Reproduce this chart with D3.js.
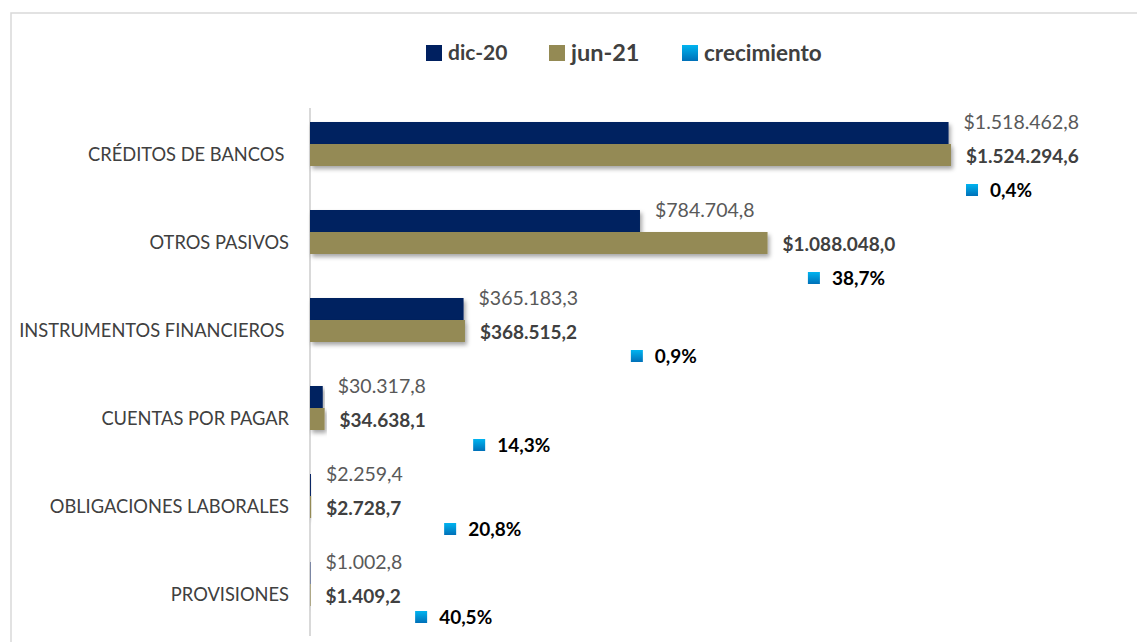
<!DOCTYPE html>
<html>
<head>
<meta charset="utf-8">
<script src="https://cdn.jsdelivr.net/npm/d3@7/dist/d3.min.js"></script>
<style>
  body { margin: 0; background: #fff; }
  text { font-family: Lato, "Open Sans", sans-serif; white-space: pre; }
</style>
</head>
<body>
<div id="chart"></div>
<script>
var categories = ["CRÉDITOS DE BANCOS ", "OTROS PASIVOS", "INSTRUMENTOS FINANCIEROS ", "CUENTAS POR PAGAR", "OBLIGACIONES LABORALES", "PROVISIONES"];
var dic20 = [1518462.8, 784704.8, 365183.3, 30317.8, 2259.4, 1002.8];
var jun21 = [1524294.6, 1088048.0, 368515.2, 34638.1, 2728.7, 1409.2];
var crecimiento = [0.4, 38.7, 0.9, 14.3, 20.8, 40.5];
var seriesNames = ["dic-20", "jun-21", "crecimiento"];
// where the growth labels were dragged to, in value units of the x axis
var growthLabelAt = [1560000, 1184000, 763000, 388000, 319000, 250000];
var growthLabelDy = [13, 13, 3, 4, 0, 0];

var W = 1137, H = 642;
var colors = {dic: "#002060", jun: "#948A54"};

function fmtMoney(v) {
    var parts = v.toFixed(1).split(".");
    return "$" + parts[0].replace(/\B(?=(\d{3})+(?!\d))/g, ".") + "," + parts[1];
}
function fmtPct(v) { return v.toFixed(1).replace(".", ",") + "%"; }

var svg = d3.select("#chart").append("svg").attr("width", W).attr("height", H);
var defs = svg.append("defs");
var shadow = defs.append("filter").attr("id", "shadow").attr("x", "-5%").attr("y", "-30%").attr("width", "115%").attr("height", "180%");
shadow.append("feDropShadow").attr("dx", 2).attr("dy", 3).attr("stdDeviation", 2).attr("flood-color", "#000").attr("flood-opacity", 0.35);
var grad = defs.append("linearGradient").attr("id", "blueGrad").attr("x1", 0).attr("y1", 0).attr("x2", 0).attr("y2", 1);
grad.append("stop").attr("offset", "0%").attr("stop-color", "#00B4F0");
grad.append("stop").attr("offset", "100%").attr("stop-color", "#0070B8");

// chart frame
svg.append("rect").attr("x", 11).attr("y", 13).attr("width", W).attr("height", H)
    .attr("fill", "none").attr("stroke", "#d9d9d9").attr("stroke-width", 1.5);

var x = d3.scaleLinear().domain([0, 1524294.6]).range([310, 951]);
var y = d3.scaleBand().domain(categories).range([111, 639]);
var sub = d3.scaleBand().domain([0, 1, 2]).range([0, 66]);
var inset = (y.bandwidth() - 66) / 2;

// vertical category axis
svg.append("g").attr("transform", "translate(" + x(0) + ",0)")
    .call(d3.axisLeft(y).tickSize(0).tickPadding(21).tickFormat(function(d){ return d; }))
    .call(function(g) {
        g.select(".domain").attr("stroke", "#d9d9d9").attr("stroke-width", 2).attr("d", "M0,108V636");
        g.selectAll("text").attr("fill", "#404040").attr("font-size", 18.3).attr("font-family", "Lato, sans-serif");
    });

var rows = svg.append("g").selectAll("g").data(categories).enter().append("g")
    .attr("transform", function(d){ return "translate(0," + (y(d) + inset) + ")"; });

rows.append("rect").attr("x", x(0))
    .attr("y", sub(0)).attr("height", sub.bandwidth())
    .attr("width", function(d, i){ return x(dic20[i]) - x(0); })
    .attr("fill", colors.dic).attr("filter", "url(#shadow)");
rows.append("rect").attr("x", x(0))
    .attr("y", sub(1)).attr("height", sub.bandwidth())
    .attr("width", function(d, i){ return x(jun21[i]) - x(0); })
    .attr("fill", colors.jun).attr("filter", "url(#shadow)");

rows.append("text")
    .attr("x", function(d, i){ return x(dic20[i]) + 15; })
    .attr("y", sub(0) + sub.bandwidth() / 2 - 11)
    .attr("dy", "0.35em").attr("font-size", 19.5).attr("fill", "#595959")
    .text(function(d, i){ return fmtMoney(dic20[i]); });
rows.append("text")
    .attr("x", function(d, i){ return x(jun21[i]) + 15; })
    .attr("y", sub(1) + sub.bandwidth() / 2 + 1)
    .attr("dy", "0.35em").attr("font-size", 19).attr("font-weight", "bold").attr("fill", "#404040")
    .text(function(d, i){ return fmtMoney(jun21[i]); });

rows.append("rect")
    .attr("x", function(d, i){ return x(growthLabelAt[i]); })
    .attr("y", function(d, i){ return sub(2) + sub.bandwidth() / 2 + growthLabelDy[i] - 6; })
    .attr("width", 12).attr("height", 12).attr("fill", "url(#blueGrad)");
rows.append("text")
    .attr("x", function(d, i){ return x(growthLabelAt[i]) + 24; })
    .attr("y", function(d, i){ return sub(2) + sub.bandwidth() / 2 + growthLabelDy[i]; })
    .attr("dy", "0.35em").attr("font-size", 19).attr("font-weight", "bold").attr("fill", "#000")
    .text(function(d, i){ return fmtPct(crecimiento[i]); });

// legend
var legendFills = [colors.dic, colors.jun, "url(#blueGrad)"];
var legendX = [426, 549, 682];
var legendSize = [21, 23.5, 22.5];
var legend = svg.append("g").selectAll("g").data(seriesNames).enter().append("g")
    .attr("transform", function(d, i){ return "translate(" + legendX[i] + ",45)"; });
legend.append("rect").attr("width", 16).attr("height", 16).attr("fill", function(d, i){ return legendFills[i]; });
legend.append("text").attr("x", 22).attr("y", 8).attr("dy", "0.35em")
    .attr("font-size", function(d, i){ return legendSize[i]; }).attr("font-weight", "bold").attr("fill", "#404040")
    .text(function(d){ return d; });
</script>
</body>
</html>
